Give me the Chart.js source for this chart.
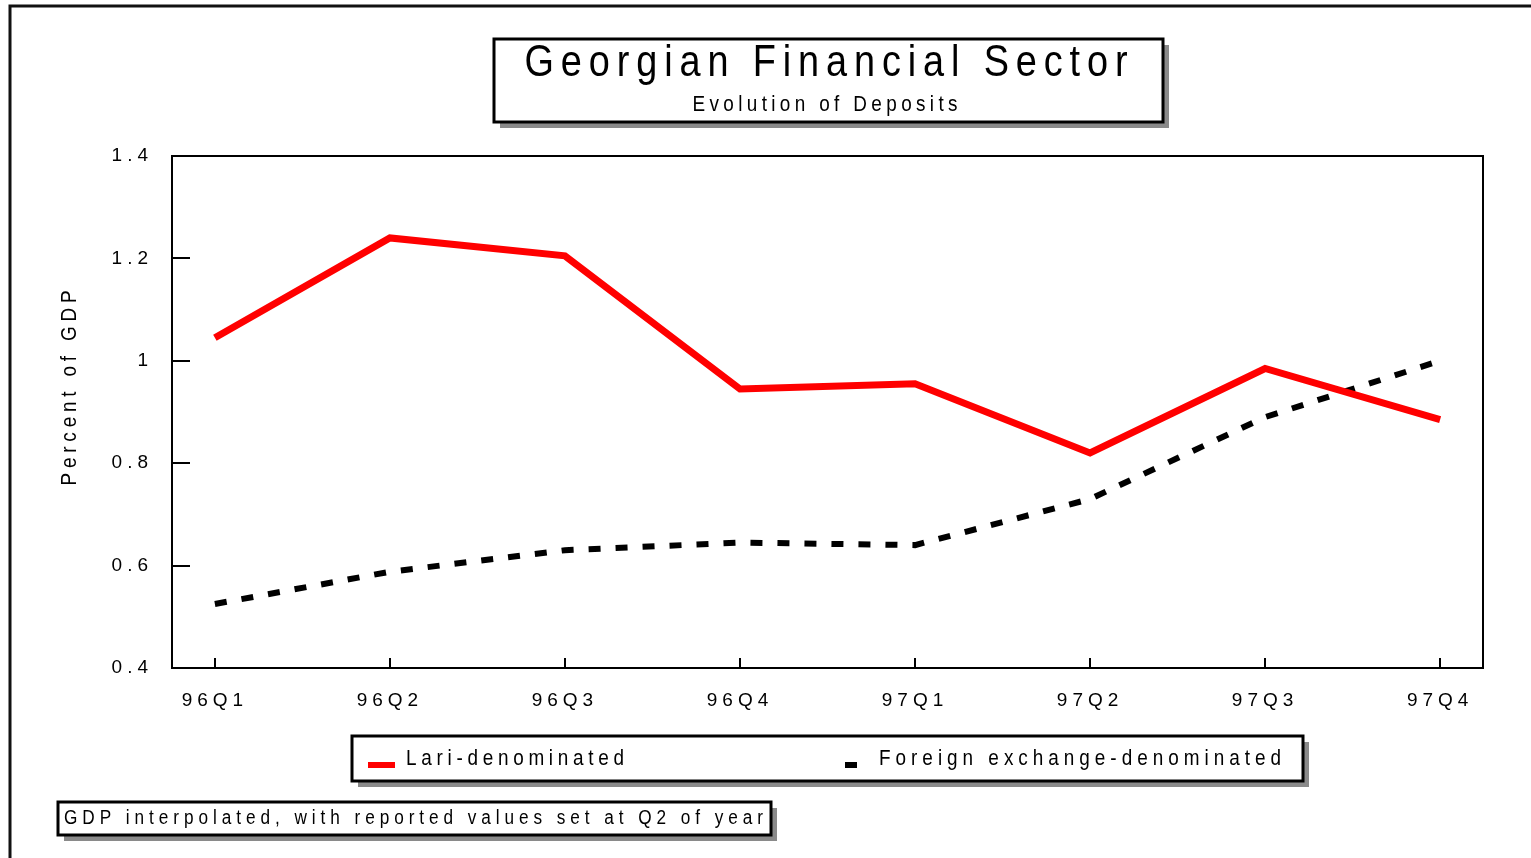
<!DOCTYPE html>
<html>
<head>
<meta charset="utf-8">
<title>Georgian Financial Sector</title>
<script src="https://cdn.jsdelivr.net/npm/chart.js@4.4.0/dist/chart.umd.min.js"></script>
<style>
  html, body { margin: 0; padding: 0; background: #fff; overflow: hidden; }
  #wrap { width: 1531px; height: 858px; position: relative; }
</style>
</head>
<body>
<div id="wrap"><canvas id="depositChart"></canvas></div>
<script>
// Data
var categories = ["96Q1", "96Q2", "96Q3", "96Q4", "97Q1", "97Q2", "97Q3", "97Q4"];
var lariValues = [1.045, 1.24, 1.205, 0.945, 0.955, 0.82, 0.985, 0.885];
var foreignValues = [0.525, 0.588, 0.63, 0.645, 0.64, 0.73, 0.89, 1.0];
var yTicks = [0.4, 0.6, 0.8, 1.0, 1.2, 1.4];
var yTickLabels = ["0.4", "0.6", "0.8", "1", "1.2", "1.4"];
var seriesNames = ["Lari-denominated", "Foreign exchange-denominated"];
var titleText = "Georgian Financial Sector";
var subtitleText = "Evolution of Deposits";
var yAxisText = "Percent of GDP";
var noteText = "GDP interpolated, with reported values set at Q2 of year";

var FONT = "'Liberation Sans', Arial, sans-serif";
var SQUEEZE = 0.86; // narrow glyphs like the old Arial Narrow output

// draw text char by char so it fills a given width (old letter-spaced look)
function spacedText(ctx, text, x, y, width, align) {
  var plain = 0;
  for (var i = 0; i < text.length; i++) plain += ctx.measureText(text[i]).width * SQUEEZE;
  var gap = text.length > 1 ? (width - plain) / (text.length - 1) : 0;
  var cx = align === "center" ? x - width / 2 : x;
  ctx.textAlign = "left";
  for (var j = 0; j < text.length; j++) {
    ctx.save();
    ctx.translate(cx, y);
    ctx.scale(SQUEEZE, 1);
    ctx.fillText(text[j], 0, 0);
    ctx.restore();
    cx += ctx.measureText(text[j]).width * SQUEEZE + gap;
  }
}

function shadowBox(ctx, x, y, w, h, lw) {
  ctx.fillStyle = "#8a8a8a";
  ctx.fillRect(x + 6, y + 6, w, h);
  ctx.fillStyle = "#ffffff";
  ctx.fillRect(x, y, w, h);
  ctx.strokeStyle = "#000";
  ctx.lineWidth = lw;
  ctx.strokeRect(x, y, w, h);
}

var decorPlugin = {
  id: "decor",
  beforeDraw: function (chart) {
    chart.ctx.letterSpacing = "5px";
  },
  beforeDatasetsDraw: function (chart) {
    var ctx = chart.ctx;
    var a = chart.chartArea;
    var xs = chart.scales.x, ys = chart.scales.y;
    ctx.save();
    ctx.strokeStyle = "#000";
    ctx.lineWidth = 2;
    ctx.strokeRect(a.left, a.top, a.right - a.left, a.bottom - a.top);
    // inward tick marks
    ctx.beginPath();
    yTicks.forEach(function (v) {
      var py = Math.round(ys.getPixelForValue(v));
      ctx.moveTo(a.left, py);
      ctx.lineTo(a.left + 18, py);
    });
    categories.forEach(function (c, i) {
      var px = Math.round(xs.getPixelForValue(i));
      ctx.moveTo(px, a.bottom);
      ctx.lineTo(px, a.bottom - 10);
    });
    ctx.stroke();
    ctx.restore();
  },
  afterDraw: function (chart) {
    var ctx = chart.ctx;
    ctx.save();
    ctx.letterSpacing = "0px";
    ctx.textBaseline = "middle";

    // outer frame
    ctx.strokeStyle = "#111";
    ctx.lineWidth = 3;
    ctx.beginPath();
    ctx.moveTo(10, 858);
    ctx.lineTo(10, 6);
    ctx.lineTo(1531, 6);
    ctx.stroke();

    // title box
    shadowBox(ctx, 494, 39, 669, 83, 3);
    ctx.fillStyle = "#000";
    ctx.font = "44px " + FONT;
    spacedText(ctx, titleText, 826, 64, 603, "center");
    ctx.font = "22px " + FONT;
    spacedText(ctx, subtitleText, 825, 105, 265, "center");

    // y axis title
    ctx.save();
    ctx.translate(70, 388);
    ctx.rotate(-Math.PI / 2);
    ctx.font = "22px " + FONT;
    spacedText(ctx, yAxisText, 0, 0, 195, "center");
    ctx.restore();

    // legend
    var ds = chart.data.datasets;
    shadowBox(ctx, 352, 736, 951, 45, 3);
    ctx.fillStyle = ds[0].borderColor;
    ctx.fillRect(368, 762, 27, 6);
    ctx.fillStyle = ds[1].borderColor;
    ctx.fillRect(845, 762, 12, 6);
    ctx.fillStyle = "#000";
    ctx.font = "22px " + FONT;
    spacedText(ctx, ds[0].label, 406, 759, 218, "left");
    spacedText(ctx, ds[1].label, 879, 759, 402, "left");

    // footnote
    shadowBox(ctx, 58, 802, 713, 33, 3);
    ctx.fillStyle = "#000";
    ctx.font = "20px " + FONT;
    spacedText(ctx, noteText, 64, 818, 699, "left");

    ctx.restore();
  }
};

var ctx = document.getElementById("depositChart");

var depositChart = new Chart(ctx, {
  type: "line",
  data: {
    datasets: [
      {
        label: seriesNames[0],
        data: lariValues.map(function (v, i) { return { x: i, y: v }; }),
        borderColor: "#ff0000",
        borderWidth: 7,
        pointRadius: 0,
        tension: 0,
        fill: false
      },
      {
        label: seriesNames[1],
        data: foreignValues.map(function (v, i) { return { x: i, y: v }; }),
        borderColor: "#000000",
        borderWidth: 6,
        borderDash: [12, 15],
        pointRadius: 0,
        tension: 0,
        fill: false
      }
    ]
  },
  options: {
    responsive: true,
    maintainAspectRatio: false,
    animation: false,
    layout: {
      padding: { left: 0, right: 48, top: 156, bottom: 0 }
    },
    scales: {
      x: {
        type: "linear",
        min: -0.245,
        max: 7.245,
        afterBuildTicks: function (scale) {
          scale.ticks = categories.map(function (c, i) { return { value: i }; });
        },
        afterFit: function (scale) { scale.height = 190; },
        ticks: {
          autoSkip: false,
          maxRotation: 0,
          padding: 21,
          color: "#000",
          font: { family: FONT, size: 19 },
          callback: function (v) { return categories[v]; }
        },
        grid: { display: false, drawTicks: false },
        border: { display: false }
      },
      y: {
        min: 0.4,
        max: 1.4,
        afterBuildTicks: function (scale) {
          scale.ticks = yTicks.map(function (v) { return { value: v }; });
        },
        afterFit: function (scale) { scale.width = 172; },
        ticks: {
          padding: 19,
          color: "#000",
          font: { family: FONT, size: 19 },
          callback: function (v) {
            var k = yTicks.findIndex(function (t) { return Math.abs(t - v) < 1e-6; });
            return k >= 0 ? yTickLabels[k] : "";
          }
        },
        grid: { display: false, drawTicks: false },
        border: { display: false }
      }
    },
    plugins: {
      legend: { display: false },
      tooltip: { enabled: false }
    }
  },
  plugins: [decorPlugin]
});
</script>
</body>
</html>
